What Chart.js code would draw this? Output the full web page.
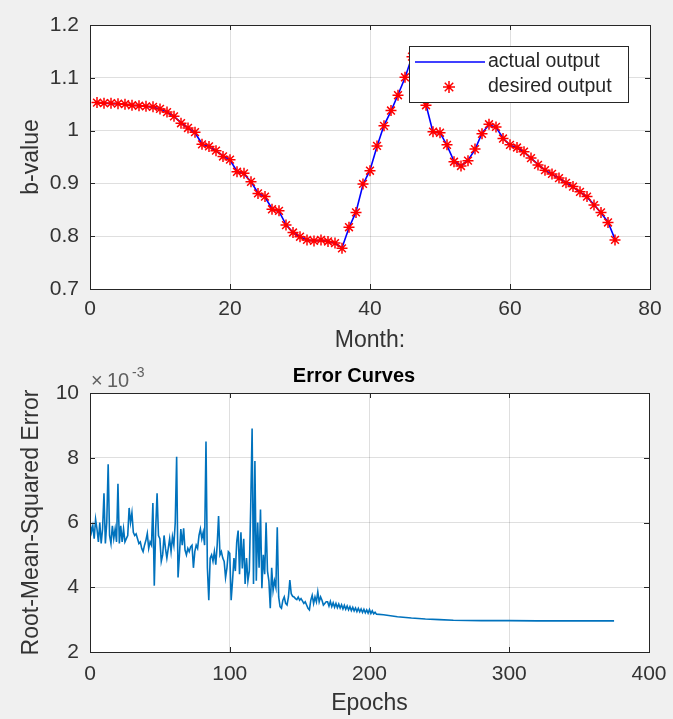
<!DOCTYPE html>
<html lang="en">
<head>
    <meta charset="UTF-8">
    <title>b-value Output and Error Curves</title>
    <script src="https://cdn.jsdelivr.net/npm/chart.js"></script>
    <style>
        html, body {
            margin: 0;
            padding: 0;
            background: #f0f0f0;
        }
        .wrap {
            position: relative;
            width: 673px;
            height: 719px;
        }
        .panel {
            position: absolute;
            left: 0;
            width: 673px;
        }
        #topPanel { top: 0; height: 360px; }
        #bottomPanel { top: 360px; height: 359px; }
    </style>
</head>
<body>
    <div class="wrap">
        <div class="panel" id="topPanel"><canvas id="bChart"></canvas></div>
        <div class="panel" id="bottomPanel"><canvas id="errChart"></canvas></div>
    </div>

    <script>
        // Top panel: months and b-values
        const months = [1, 2, 3, 4, 5, 6, 7, 8, 9, 10, 11, 12, 13, 14, 15, 16, 17, 18, 19, 20,
            21, 22, 23, 24, 25, 26, 27, 28, 29, 30, 31, 32, 33, 34, 35, 36, 37, 38, 39, 40,
            41, 42, 43, 44, 45, 46, 47, 48, 49, 50, 51, 52, 53, 54, 55, 56, 57, 58, 59, 60,
            61, 62, 63, 64, 65, 66, 67, 68, 69, 70, 71, 72, 73, 74, 75];

        const desiredOutput = [1.053, 1.052, 1.052, 1.051, 1.050, 1.048, 1.047, 1.046, 1.045, 1.041,
            1.035, 1.027, 1.014, 1.005, 0.997, 0.974, 0.970, 0.962, 0.951, 0.945,
            0.922, 0.919, 0.903, 0.881, 0.875, 0.851, 0.848, 0.821, 0.807, 0.799,
            0.793, 0.791, 0.793, 0.790, 0.787, 0.777, 0.817, 0.845, 0.899, 0.924,
            0.971, 1.009, 1.038, 1.067, 1.101, 1.140, 1.095, 1.048, 0.998, 0.996,
            0.973, 0.941, 0.933, 0.943, 0.965, 0.994, 1.012, 1.007, 0.985, 0.973,
            0.968, 0.960, 0.948, 0.935, 0.925, 0.918, 0.910, 0.901, 0.894, 0.884,
            0.875, 0.859, 0.845, 0.826, 0.793];

        const actualOutput = [1.053, 1.052, 1.051, 1.051, 1.050, 1.048, 1.047, 1.046, 1.044, 1.041,
            1.035, 1.027, 1.015, 1.005, 0.996, 0.975, 0.969, 0.962, 0.952, 0.944,
            0.923, 0.918, 0.903, 0.882, 0.874, 0.852, 0.847, 0.822, 0.807, 0.799,
            0.793, 0.791, 0.792, 0.790, 0.787, 0.778, 0.816, 0.846, 0.898, 0.925,
            0.970, 1.010, 1.037, 1.068, 1.100, 1.140, 1.094, 1.049, 0.997, 0.996,
            0.972, 0.942, 0.933, 0.944, 0.964, 0.995, 1.011, 1.006, 0.986, 0.972,
            0.968, 0.959, 0.948, 0.936, 0.925, 0.917, 0.910, 0.902, 0.893, 0.884,
            0.874, 0.860, 0.844, 0.827, 0.794];

        // Bottom panel: RMSE (x 10^-3) per epoch, epochs 0..205
        const rmseEarly = [
            6.00, 5.70, 5.90, 5.50, 6.10, 5.80, 5.40, 6.00, 5.35, 5.80,
            6.90, 5.35, 6.00, 7.80, 5.60, 5.35, 5.90, 5.50, 5.80, 5.40,
            7.20, 5.35, 5.90, 5.40, 5.80, 5.40, 5.50, 5.60, 6.45, 6.00,
            6.30, 5.70, 5.60, 5.65, 5.50, 5.35, 5.40, 5.20, 5.10, 5.30,
            5.45, 5.66, 5.20, 5.40, 5.30, 6.60, 4.05, 5.80, 6.90, 5.60,
            5.50, 4.80, 5.00, 5.60, 5.20, 4.90, 5.20, 5.50, 5.10, 5.56,
            5.30, 6.00, 8.03, 4.30, 5.00, 5.80, 5.30, 5.82, 5.15, 5.00,
            5.20, 5.10, 5.25, 5.30, 4.60, 5.10, 5.30, 5.20, 5.60, 5.80,
            5.50, 5.70, 5.30, 8.50, 4.60, 3.60, 4.90, 5.00, 4.80, 5.10,
            4.70, 5.30, 6.20, 5.00, 5.10, 4.90, 4.80, 4.30, 4.60, 5.10,
            5.05, 3.60, 4.20, 4.90, 4.50, 5.40, 5.75, 4.40, 5.70, 4.58,
            5.50, 4.10, 4.90, 4.20, 4.50, 6.50, 8.90, 4.10, 7.90, 4.20,
            6.00, 4.60, 6.40, 3.97, 5.00, 4.40, 6.00, 4.50, 4.20, 3.35,
            4.60, 3.90, 4.20, 4.00, 5.85, 3.70, 3.40, 3.35, 3.60, 3.70,
            3.50, 3.45, 3.70, 4.22, 3.80, 3.72, 3.70, 3.65, 3.62, 3.70,
            3.60, 3.65, 3.58, 3.50, 3.55, 3.45, 3.35, 3.30, 3.60, 3.75,
            3.50, 3.70, 3.55, 3.86, 3.55, 3.70, 3.60, 3.45, 3.50, 3.55,
            3.55, 3.42, 3.56, 3.40, 3.52, 3.38, 3.50, 3.37, 3.48, 3.36,
            3.46, 3.33, 3.44, 3.32, 3.42, 3.30, 3.40, 3.28, 3.38, 3.27,
            3.36, 3.25, 3.35, 3.24, 3.33, 3.22, 3.32, 3.21, 3.30, 3.20,
            3.31, 3.19, 3.27, 3.18, 3.23, 3.17];

        // settled tail of the curve
        const tailEpochs = [210, 215, 220, 230, 240, 250, 260, 280, 300, 320, 340, 360, 375];
        const tailRmse = [3.15, 3.12, 3.09, 3.05, 3.02, 3.00, 2.98, 2.97, 2.97, 2.96, 2.96, 2.96, 2.96];

        // Axis ticks
        const bTicks = [0.7, 0.8, 0.9, 1.0, 1.1, 1.2];
        const monthTicks = [0, 20, 40, 60, 80];
        const rmseTicks = [2, 4, 6, 8, 10];
        const epochTicks = [0, 100, 200, 300, 400];

        const FONT = '"Liberation Sans", Arial, sans-serif';
        const TEXT = '#333333';
        const AXIS = '#262626';
        const GRID = 'rgba(38, 38, 38, 0.15)';

        Chart.defaults.font.family = FONT;
        Chart.defaults.animation = false;

        // white plot area, dark box and inward tick marks like MATLAB axes
        function axesBoxPlugin(xTicks, yTicks) {
            return {
                id: 'axesBox',
                beforeDraw(chart) {
                    const a = chart.chartArea;
                    const ctx = chart.ctx;
                    ctx.save();
                    ctx.fillStyle = '#ffffff';
                    ctx.fillRect(a.left, a.top, a.right - a.left, a.bottom - a.top);
                    ctx.restore();
                },
                afterDatasetsDraw(chart) {
                    const a = chart.chartArea;
                    const ctx = chart.ctx;
                    const xs = chart.scales.x;
                    const ys = chart.scales.y;
                    const len = 5;
                    ctx.save();
                    ctx.strokeStyle = AXIS;
                    ctx.lineWidth = 1;
                    ctx.beginPath();
                    xTicks.forEach(t => {
                        const px = Math.round(xs.getPixelForValue(t)) + 0.5;
                        ctx.moveTo(px, a.bottom);
                        ctx.lineTo(px, a.bottom - len);
                        ctx.moveTo(px, a.top);
                        ctx.lineTo(px, a.top + len);
                    });
                    yTicks.forEach(t => {
                        const py = Math.round(ys.getPixelForValue(t)) + 0.5;
                        ctx.moveTo(a.left, py);
                        ctx.lineTo(a.left + len, py);
                        ctx.moveTo(a.right, py);
                        ctx.lineTo(a.right - len, py);
                    });
                    ctx.stroke();
                    ctx.strokeRect(Math.round(a.left) + 0.5, Math.round(a.top) + 0.5,
                        Math.round(a.right - a.left), Math.round(a.bottom - a.top));
                    ctx.restore();
                }
            };
        }

        function drawStar(ctx, x, y, r) {
            for (let i = 0; i < 4; i++) {
                const ang = i * Math.PI / 4;
                ctx.moveTo(x - Math.cos(ang) * r, y - Math.sin(ang) * r);
                ctx.lineTo(x + Math.cos(ang) * r, y + Math.sin(ang) * r);
            }
        }

        const legendPlugin = {
            id: 'insideLegend',
            afterDraw(chart) {
                const ctx = chart.ctx;
                ctx.save();
                ctx.fillStyle = '#ffffff';
                ctx.strokeStyle = AXIS;
                ctx.lineWidth = 1;
                ctx.fillRect(409.5, 46.5, 219, 56);
                ctx.strokeRect(409.5, 46.5, 219, 56);

                ctx.strokeStyle = '#0000ff';
                ctx.lineWidth = 1.5;
                ctx.beginPath();
                ctx.moveTo(415, 62);
                ctx.lineTo(485, 62);
                ctx.stroke();

                ctx.strokeStyle = '#ff0000';
                ctx.lineWidth = 1.5;
                ctx.beginPath();
                drawStar(ctx, 449, 87, 6);
                ctx.stroke();

                ctx.fillStyle = AXIS;
                ctx.font = '19.5px ' + FONT;
                ctx.textBaseline = 'middle';
                ctx.textAlign = 'left';
                ctx.fillText('actual output', 488, 62);
                ctx.fillText('desired output', 488, 87);
                ctx.restore();
            }
        };

        const errTitlePlugin = {
            id: 'errTitle',
            afterDraw(chart) {
                const ctx = chart.ctx;
                ctx.save();
                ctx.fillStyle = '#000000';
                ctx.font = 'bold 20px ' + FONT;
                ctx.textAlign = 'center';
                ctx.textBaseline = 'middle';
                ctx.fillText('Error Curves', 354, 16);

                ctx.fillStyle = '#606060';
                ctx.textAlign = 'left';
                ctx.textBaseline = 'alphabetic';
                ctx.font = '20px ' + FONT;
                ctx.fillText('\u00d7', 91, 27);
                ctx.fillText('10', 107, 27);
                ctx.font = '14px ' + FONT;
                ctx.fillText('-3', 132, 17);
                ctx.restore();
            }
        };

        // keep the plot box where the reference puts it, whatever the tick labels need
        function fixXScale(height) {
            return function (scale) {
                scale.height = height;
                scale.paddingLeft = 0;
                scale.paddingRight = 0;
            };
        }

        // Top chart: actual vs desired output
        new Chart(document.getElementById('bChart').getContext('2d'), {
            type: 'line',
            data: {
                datasets: [
                    {
                        label: 'actual output',
                        data: months.map((m, i) => ({ x: m, y: actualOutput[i] })),
                        borderColor: '#0000ff',
                        borderWidth: 1.6,
                        pointRadius: 0,
                        fill: false,
                        tension: 0,
                        order: 1
                    },
                    {
                        label: 'desired output',
                        data: months.map((m, i) => ({ x: m, y: desiredOutput[i] })),
                        showLine: false,
                        pointStyle: 'star',
                        pointRadius: 5.5,
                        pointBorderWidth: 1.5,
                        borderColor: '#ff0000',
                        backgroundColor: '#ff0000',
                        order: 0
                    }
                ]
            },
            options: {
                responsive: true,
                maintainAspectRatio: false,
                layout: { padding: { top: 25, right: 23, left: 0, bottom: 0 } },
                plugins: { legend: { display: false }, tooltip: { enabled: false } },
                scales: {
                    x: {
                        type: 'linear',
                        min: 0,
                        max: 80,
                        afterBuildTicks(scale) { scale.ticks = monthTicks.map(v => ({ value: v })); },
                        afterFit: fixXScale(71),
                        ticks: { color: TEXT, font: { size: 21 }, padding: 8 },
                        grid: { color: GRID, drawTicks: false },
                        border: { display: false },
                        title: {
                            display: true,
                            text: 'Month:',
                            color: TEXT,
                            font: { size: 23 },
                            padding: { top: 0, bottom: 6 }
                        }
                    },
                    y: {
                        min: 0.7,
                        max: 1.2,
                        afterBuildTicks(scale) { scale.ticks = bTicks.map(v => ({ value: v })); },
                        afterFit(scale) { scale.width = 90; },
                        ticks: {
                            color: TEXT,
                            font: { size: 21 },
                            padding: 11,
                            callback: v => String(+Number(v).toFixed(2))
                        },
                        grid: { color: GRID, drawTicks: false },
                        border: { display: false },
                        title: {
                            display: true,
                            text: 'b-value',
                            color: TEXT,
                            font: { size: 23 },
                            padding: { top: 18, bottom: 0 }
                        }
                    }
                }
            },
            plugins: [axesBoxPlugin(monthTicks, bTicks), legendPlugin]
        });

        // Bottom chart: training error
        const rmsePoints = rmseEarly.map((v, i) => ({ x: i, y: v }))
            .concat(tailEpochs.map((e, i) => ({ x: e, y: tailRmse[i] })));

        new Chart(document.getElementById('errChart').getContext('2d'), {
            type: 'line',
            data: {
                datasets: [{
                    label: 'RMSE',
                    data: rmsePoints,
                    borderColor: '#0072bd',
                    borderWidth: 1.6,
                    pointRadius: 0,
                    fill: false,
                    tension: 0
                }]
            },
            options: {
                responsive: true,
                maintainAspectRatio: false,
                layout: { padding: { top: 33, right: 24, left: 0, bottom: 0 } },
                plugins: { legend: { display: false }, tooltip: { enabled: false } },
                scales: {
                    x: {
                        type: 'linear',
                        min: 0,
                        max: 400,
                        afterBuildTicks(scale) { scale.ticks = epochTicks.map(v => ({ value: v })); },
                        afterFit: fixXScale(67),
                        ticks: { color: TEXT, font: { size: 21 }, padding: 10 },
                        grid: { color: GRID, drawTicks: false },
                        border: { display: false },
                        title: {
                            display: true,
                            text: 'Epochs',
                            color: TEXT,
                            font: { size: 23 },
                            padding: { top: 0, bottom: 2 }
                        }
                    },
                    y: {
                        min: 2,
                        max: 10,
                        afterBuildTicks(scale) { scale.ticks = rmseTicks.map(v => ({ value: v })); },
                        afterFit(scale) { scale.width = 90; },
                        ticks: { color: TEXT, font: { size: 21 }, padding: 11 },
                        grid: { color: GRID, drawTicks: false },
                        border: { display: false },
                        title: {
                            display: true,
                            text: 'Root-Mean-Squared Error',
                            color: TEXT,
                            font: { size: 23 },
                            padding: { top: 18, bottom: 0 }
                        }
                    }
                }
            },
            plugins: [axesBoxPlugin(epochTicks, rmseTicks), errTitlePlugin]
        });
    </script>
</body>
</html>
